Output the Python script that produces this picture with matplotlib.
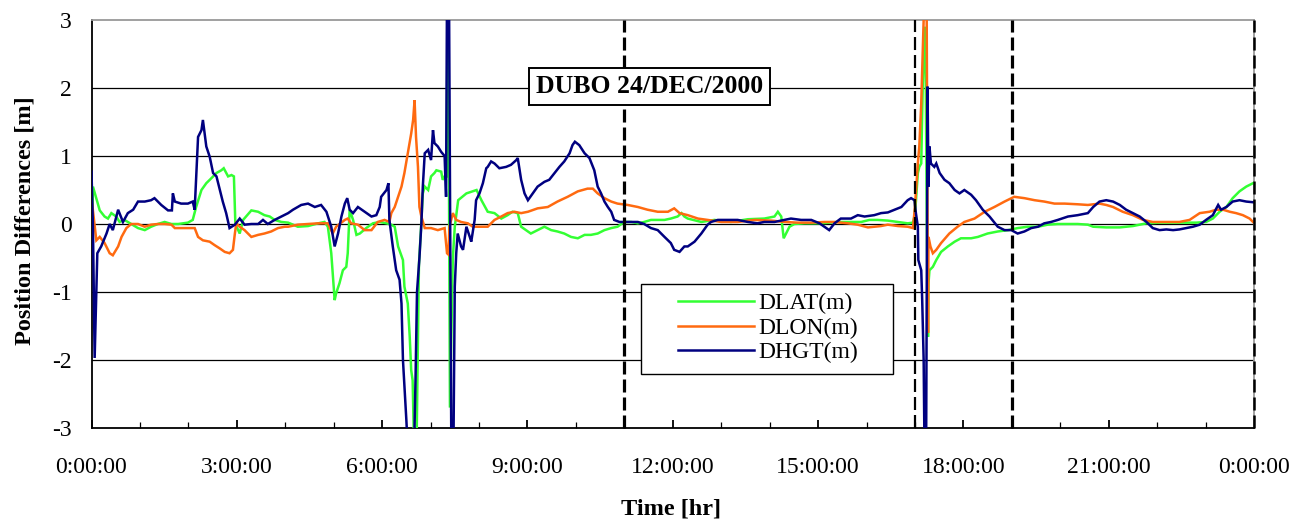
import matplotlib
matplotlib.use("Agg")
import matplotlib.pyplot as plt
from matplotlib.patches import Rectangle

# ---------------- data (hours, metres) ----------------
lat_t = [0.00, 0.03, 0.07, 0.17, 0.27, 0.34, 0.41, 0.51, 0.58, 0.68, 0.82, 0.96, 1.10, 1.23, 1.37, 1.51,
         1.65, 1.79, 1.99, 2.09, 2.16, 2.27, 2.37, 2.47, 2.58, 2.68, 2.73, 2.82, 2.89, 2.94, 2.97, 3.06,
         3.13, 3.30, 3.44, 3.57, 3.68, 3.78, 3.92, 4.06, 4.26, 4.47, 4.68, 4.81, 4.88, 4.95, 5.02, 5.05,
         5.12, 5.19, 5.26, 5.29, 5.33, 5.40, 5.47, 5.54, 5.67, 5.81, 5.95, 6.09, 6.19, 6.26, 6.33, 6.43,
         6.46, 6.53, 6.57, 6.60, 6.63, 6.66, 6.71, 6.76, 6.80, 6.84, 6.88, 6.95, 7.01, 7.08, 7.12, 7.22,
         7.25, 7.29, 7.33, 7.35, 7.37, 7.40, 7.46, 7.50, 7.57, 7.74, 7.95, 8.05, 8.18, 8.32, 8.46, 8.59,
         8.69, 8.80, 8.87, 8.97, 9.07, 9.21, 9.35, 9.49, 9.62, 9.76, 9.90, 10.04, 10.18, 10.31, 10.45,
         10.59, 10.73, 10.86, 11.00, 11.14, 11.28, 11.41, 11.55, 11.69, 11.83, 11.96, 12.10, 12.18,
         12.24, 12.31, 12.59, 12.86, 13.20, 13.55, 13.89, 14.10, 14.17, 14.24, 14.29, 14.34, 14.41,
         14.51, 14.72, 15.06, 15.41, 15.68, 15.89, 16.06, 16.23, 16.44, 16.65, 16.85, 16.96, 16.99,
         17.02, 17.06, 17.09, 17.13, 17.16, 17.20, 17.22, 17.25, 17.27, 17.28, 17.30, 17.37, 17.44,
         17.54, 17.68, 17.82, 17.95, 18.16, 18.30, 18.50, 18.71, 18.92, 19.12, 19.33, 19.54, 19.74,
         19.95, 20.16, 20.36, 20.57, 20.68, 20.95, 21.23, 21.50, 21.78, 22.05, 22.33, 22.60, 22.81,
         23.01, 23.15, 23.29, 23.43, 23.56, 23.70, 23.84, 23.98]
lat_v = [-0.43, 0.55, 0.45, 0.20, 0.11, 0.08, 0.16, 0.11, 0.03, 0.06, 0.00, -0.06, -0.09, -0.04, 0.00, 0.03,
         0.00, 0.00, 0.02, 0.06, 0.25, 0.50, 0.60, 0.67, 0.75, 0.79, 0.82, 0.70, 0.72, 0.70, 0.00, -0.14,
         0.06, 0.20, 0.18, 0.13, 0.11, 0.06, 0.03, 0.02, -0.04, -0.03, 0.01, 0.03, -0.04, -0.43, -1.12, -1.02,
         -0.87, -0.68, -0.63, -0.43, 0.21, 0.06, -0.16, -0.14, -0.06, 0.01, 0.03, 0.01, -0.01, -0.04, -0.33, -0.53,
         -0.92, -1.17, -1.66, -2.15, -2.30, -3.30, -3.30, -0.60, -0.10, 0.45, 0.55, 0.50, 0.70, 0.75, 0.79, 0.77,
         0.65, 0.70, 0.70, 2.90, 2.30, -2.70, -0.50, -0.04, 0.35, 0.45, 0.50, 0.35, 0.18, 0.16, 0.08, 0.13,
         0.18, 0.16, -0.04, -0.09, -0.14, -0.09, -0.04, -0.09, -0.11, -0.14, -0.19, -0.21, -0.16, -0.16, -0.14,
         -0.09, -0.06, -0.04, 0.03, 0.03, 0.01, 0.03, 0.06, 0.06, 0.06, 0.08, 0.11, 0.16,
         0.11, 0.08, 0.03, 0.06, 0.03, 0.07, 0.08, 0.11, 0.18, 0.11, -0.21, -0.14, -0.04,
         0.00, 0.01, 0.01, 0.03, 0.03, 0.03, 0.06, 0.06, 0.05, 0.03, 0.01, 0.02, 0.11,
         0.33, 0.75, 0.84, 0.89, 2.00, 2.90, 2.40, -0.40, -1.66, -0.87, -0.68, -0.63, -0.53,
         -0.41, -0.33, -0.26, -0.21, -0.21, -0.19, -0.14, -0.11, -0.09, -0.06, -0.04, -0.04, -0.01,
         0.00, 0.00, 0.00, -0.01, -0.04, -0.05, -0.05, -0.03, 0.01, 0.02, 0.02, 0.02, 0.02,
         0.03, 0.08, 0.18, 0.25, 0.38, 0.48, 0.55, 0.60]

lon_t = [0.00, 0.10, 0.17, 0.27, 0.375, 0.44, 0.55, 0.62, 0.72, 0.82, 0.96, 1.10, 1.23, 1.37, 1.51, 1.65,
         1.72, 1.85, 1.99, 2.13, 2.20, 2.30, 2.44, 2.54, 2.65, 2.75, 2.85, 2.92, 2.96, 2.99, 3.06, 3.16,
         3.30, 3.44, 3.57, 3.71, 3.85, 3.99, 4.06, 4.26, 4.47, 4.68, 4.88, 4.98, 5.05, 5.23, 5.29, 5.36,
         5.50, 5.64, 5.78, 5.91, 6.05, 6.15, 6.19, 6.26, 6.33, 6.40, 6.46, 6.53, 6.60, 6.64, 6.67, 6.70,
         6.74, 6.77, 6.81, 6.88, 7.01, 7.15, 7.29, 7.34, 7.37, 7.39, 7.46, 7.53, 7.63, 7.77, 7.87, 7.98,
         8.18, 8.32, 8.46, 8.59, 8.73, 8.87, 9.01, 9.21, 9.42, 9.62, 9.83, 10.04, 10.24, 10.35, 10.45,
         10.59, 10.73, 10.86, 11.07, 11.28, 11.48, 11.69, 11.90, 12.03, 12.14, 12.31, 12.52, 12.72,
         13.00, 13.34, 13.69, 14.03, 14.31, 14.58, 14.86, 15.13, 15.34, 15.61, 15.82, 16.03, 16.30,
         16.44, 16.65, 16.85, 16.96, 17.00, 17.06, 17.09, 17.13, 17.16, 17.20, 17.24, 17.27, 17.28,
         17.32, 17.37, 17.44, 17.54, 17.71, 17.88, 18.02, 18.23, 18.44, 18.64, 18.85, 19.05, 19.26,
         19.47, 19.67, 19.88, 20.09, 20.36, 20.57, 20.81, 20.95, 21.09, 21.29, 21.50, 21.71, 21.91,
         22.19, 22.46, 22.67, 22.88, 23.08, 23.22, 23.36, 23.50, 23.63, 23.77, 23.91, 23.98]
lon_v = [0.38, -0.24, -0.19, -0.28, -0.43, -0.46, -0.33, -0.19, -0.06, 0.00, 0.00, -0.04, -0.01, 0.00, 0.00, -0.01,
         -0.06, -0.06, -0.06, -0.06, -0.19, -0.24, -0.26, -0.31, -0.36, -0.41, -0.43, -0.38, -0.14, 0.01, -0.04, -0.09,
         -0.19, -0.16, -0.14, -0.11, -0.06, -0.04, -0.04, -0.01, 0.00, 0.01, 0.01, -0.14, -0.04, 0.06, 0.08, 0.01,
         -0.01, -0.09, -0.09, 0.03, 0.06, 0.03, 0.16, 0.25, 0.40, 0.55, 0.75, 1.04, 1.33, 1.53, 1.82, 1.28,
         0.84, 0.25, 0.11, -0.06, -0.06, -0.09, -0.06, -0.43, -0.45, -0.04, 0.16, 0.06, 0.03, 0.01, -0.04, -0.04,
         -0.04, 0.06, 0.11, 0.16, 0.18, 0.16, 0.18, 0.23, 0.25, 0.33, 0.40, 0.48, 0.52, 0.52, 0.45,
         0.38, 0.33, 0.30, 0.28, 0.25, 0.21, 0.18, 0.18, 0.23, 0.16, 0.13, 0.08, 0.06,
         0.03, 0.03, 0.06, 0.05, 0.03, 0.02, 0.02, 0.03, 0.03, 0.01, -0.01, -0.05, -0.03,
         -0.01, -0.03, -0.04, -0.06, 0.25, 0.89, 1.14, 1.77, 2.50, 3.50, 3.50, -1.60, -0.19,
         -0.33, -0.43, -0.38, -0.28, -0.14, -0.04, 0.03, 0.08, 0.18, 0.25, 0.33, 0.40, 0.38,
         0.35, 0.33, 0.30, 0.30, 0.29, 0.28, 0.30, 0.28, 0.25, 0.18, 0.13, 0.06, 0.03,
         0.03, 0.03, 0.06, 0.16, 0.18, 0.21, 0.21, 0.18, 0.16, 0.13, 0.08, 0.03]

hgt_t = [0.00, 0.03, 0.065, 0.12, 0.20, 0.31, 0.375, 0.44, 0.55, 0.65, 0.75, 0.86, 0.96, 1.10, 1.23, 1.30,
         1.44, 1.58, 1.66, 1.68, 1.72, 1.85, 1.99, 2.09, 2.13, 2.20, 2.27, 2.30, 2.37, 2.44, 2.51, 2.58,
         2.65, 2.71, 2.78, 2.85, 2.96, 3.06, 3.16, 3.30, 3.44, 3.54, 3.64, 3.78, 3.92, 4.06, 4.16, 4.33,
         4.47, 4.61, 4.74, 4.85, 4.95, 5.02, 5.09, 5.16, 5.23, 5.28, 5.33, 5.40, 5.50, 5.64, 5.78, 5.88,
         5.95, 5.98, 6.09, 6.13, 6.15, 6.22, 6.29, 6.36, 6.40, 6.43, 6.50, 6.53, 6.66, 6.69, 6.72, 6.77,
         6.81, 6.84, 6.88, 6.95, 7.01, 7.05, 7.08, 7.15, 7.22, 7.29, 7.32, 7.34, 7.38, 7.43, 7.47, 7.50,
         7.53, 7.56, 7.63, 7.67, 7.74, 7.81, 7.84, 7.91, 7.94, 8.01, 8.08, 8.15, 8.18, 8.25, 8.32, 8.42,
         8.56, 8.66, 8.77, 8.80, 8.87, 8.94, 9.01, 9.11, 9.21, 9.35, 9.45, 9.56, 9.66, 9.76, 9.87, 9.93,
         9.98, 10.07, 10.18, 10.28, 10.38, 10.45, 10.52, 10.59, 10.66, 10.73, 10.79, 10.90, 11.00, 11.14,
         11.28, 11.41, 11.55, 11.69, 11.83, 11.96, 12.03, 12.14, 12.24, 12.31, 12.45, 12.59, 12.72, 12.79,
         12.93, 13.14, 13.34, 13.55, 13.75, 13.89, 14.10, 14.31, 14.44, 14.65, 14.86, 15.03, 15.13, 15.23,
         15.34, 15.47, 15.68, 15.82, 15.96, 16.16, 16.30, 16.44, 16.58, 16.72, 16.85, 16.92, 16.99, 17.02,
         17.06, 17.07, 17.09, 17.13, 17.15, 17.18, 17.20, 17.23, 17.26, 17.28, 17.30, 17.33, 17.40, 17.44,
         17.51, 17.61, 17.71, 17.82, 17.92, 18.02, 18.16, 18.26, 18.40, 18.54, 18.71, 18.85, 18.99, 19.12,
         19.26, 19.40, 19.54, 19.67, 19.81, 19.95, 20.16, 20.36, 20.57, 20.68, 20.81, 20.95, 21.09, 21.23,
         21.36, 21.50, 21.64, 21.78, 21.91, 22.05, 22.19, 22.33, 22.46, 22.60, 22.74, 22.88, 23.01, 23.15,
         23.26, 23.32, 23.43, 23.56, 23.70, 23.84, 23.98]
hgt_v = [0.77, -0.05, -1.97, -0.43, -0.33, -0.14, 0.00, -0.09, 0.21, 0.03, 0.16, 0.21, 0.33, 0.33, 0.35, 0.38,
         0.28, 0.20, 0.20, 0.45, 0.33, 0.30, 0.30, 0.33, 0.21, 1.28, 1.38, 1.53, 1.14, 0.99, 0.75, 0.70,
         0.50, 0.33, 0.16, -0.06, -0.01, 0.08, -0.01, 0.00, 0.00, 0.06, 0.00, 0.06, 0.11, 0.16, 0.21, 0.28,
         0.30, 0.25, 0.28, 0.18, -0.04, -0.33, -0.14, 0.11, 0.30, 0.38, 0.21, 0.16, 0.25, 0.18, 0.11, 0.13,
         0.25, 0.40, 0.50, 0.60, 0.06, -0.33, -0.68, -0.82, -1.17, -2.00, -2.88, -3.30, -3.30, -2.27, -1.00, -0.50,
         0.00, 0.55, 1.04, 1.09, 0.94, 1.38, 1.19, 1.14, 1.06, 1.00, 0.40, 3.50, 3.50, -3.50, -3.50, -0.92,
         -0.43, -0.14, -0.33, -0.38, -0.04, -0.19, -0.26, 0.06, 0.35, 0.45, 0.60, 0.82, 0.84, 0.92, 0.89, 0.82,
         0.84, 0.87, 0.94, 0.97, 0.65, 0.45, 0.35, 0.45, 0.55, 0.62, 0.65, 0.75, 0.84, 0.92, 1.04, 1.16,
         1.21, 1.16, 1.04, 0.97, 0.79, 0.55, 0.45, 0.33, 0.25, 0.18, 0.06, 0.03, 0.03, 0.03,
         0.03, 0.00, -0.06, -0.09, -0.19, -0.28, -0.38, -0.41, -0.33, -0.33, -0.26, -0.14, -0.01, 0.03,
         0.06, 0.06, 0.06, 0.03, 0.01, 0.03, 0.03, 0.06, 0.08, 0.06, 0.06, 0.01, -0.04, -0.09,
         0.01, 0.08, 0.08, 0.13, 0.11, 0.13, 0.16, 0.17, 0.21, 0.25, 0.35, 0.38, 0.35, 0.16,
         -0.04, -0.53, -0.58, -0.68, -1.12, -2.00, -3.50, -3.50, 2.02, 0.55, 1.14, 0.89, 0.84, 0.89,
         0.75, 0.65, 0.60, 0.50, 0.45, 0.50, 0.43, 0.35, 0.21, 0.11, -0.04, -0.09, -0.09, -0.14,
         -0.11, -0.06, -0.04, 0.01, 0.03, 0.06, 0.11, 0.13, 0.16, 0.25, 0.33, 0.35, 0.33, 0.28,
         0.21, 0.16, 0.11, 0.03, -0.06, -0.09, -0.08, -0.09, -0.08, -0.06, -0.04, -0.01, 0.06, 0.13,
         0.28, 0.21, 0.25, 0.33, 0.35, 0.33, 0.32]

series_names = ["DLAT(m)", "DLON(m)", "DHGT(m)"]
series_colors = ["#33FF33", "#FF6A10", "#000080"]
event_hours = [11, 17, 19, 24]
x_tick_hours = [0, 3, 6, 9, 12, 15, 18, 21, 24]
x_tick_labels = ["0:00:00", "3:00:00", "6:00:00", "9:00:00", "12:00:00", "15:00:00",
                 "18:00:00", "21:00:00", "0:00:00"]
y_ticks = [-3, -2, -1, 0, 1, 2, 3]
title_text = "DUBO 24/DEC/2000"

# ---------------- drawing ----------------
plt.rcParams["font.family"] = ["Liberation Serif", "DejaVu Serif"]
plt.rcParams["axes.unicode_minus"] = False

W, H = 1302, 523
fig = plt.figure(figsize=(W / 100, H / 100), dpi=100)
L, R, T, B = 91.5, 1254.0, 20.0, 428.0
ax = fig.add_axes([L / W, (H - B) / H, (R - L) / W, (B - T) / H])

ax.set_xlim(0, 24)
ax.set_ylim(-3, 3)

for yv in y_ticks[1:-1]:
    ax.axhline(yv, color="black", lw=0.9, zorder=1)

lines = []
for (t, v), name, col in zip([(lat_t, lat_v), (lon_t, lon_v), (hgt_t, hgt_v)], series_names, series_colors):
    ln, = ax.plot(t, v, color=col, lw=1.8, label=name, zorder=3, solid_joinstyle="miter")
    lines.append(ln)

ev_w = [2.3, 1.6, 2.3, 1.8]
for h, w in zip(event_hours, ev_w):
    ax.axvline(h, color="black", lw=w, dashes=(13 / (w * 1.389), 5 / (w * 1.389)), zorder=4, clip_on=False)

ax.set_xticks(x_tick_hours)
ax.set_xticklabels(x_tick_labels)
ax.set_xticks(range(0, 25), minor=True)
ax.tick_params(axis="x", which="major", direction="in", length=6, width=1.3, labelsize=17, pad=21)
ax.tick_params(axis="x", which="minor", direction="in", length=4.5, width=0.9)
ax.set_yticks(y_ticks)
ax.set_yticklabels([str(v) for v in y_ticks])
ax.tick_params(axis="y", which="both", length=0, labelsize=17, pad=14)

for s in ["left", "bottom"]:
    ax.spines[s].set_color("black")
    ax.spines[s].set_linewidth(1.3)
for s in ["top", "right"]:
    ax.spines[s].set_color("#999999")
    ax.spines[s].set_linewidth(1.3)

ax.set_xlabel("Time [hr]", fontsize=17.5, fontweight="bold")
ax.xaxis.set_label_coords((670.7 - L) / (R - L), (B - 498) / (B - T))
ax.set_ylabel("Position Differences [m]", fontsize=17.5, fontweight="bold")
ax.yaxis.set_label_coords((36 - L) / (R - L), (B - 221) / (B - T))

ax.text((649.5 - L) / (R - L), (B - 86.5) / (B - T), title_text, transform=ax.transAxes,
        ha="center", va="center", fontsize=18.5, fontweight="bold", zorder=10,
        bbox=dict(boxstyle="square,pad=0.28", fc="white", ec="black", lw=1.4))

# legend frame
lx0, lx1, ly0, ly1 = 641, 893, 284, 374
ax.add_patch(Rectangle(((lx0 - L) / (R - L), (B - ly1) / (B - T)),
                       (lx1 - lx0) / (R - L), (ly1 - ly0) / (B - T),
                       transform=ax.transAxes, fc="white", ec="black", lw=1.0, zorder=9))
leg = ax.legend(handles=lines, loc="center left", frameon=False,
                bbox_to_anchor=((678 - L) / (R - L), (B - 328) / (B - T)),
                fontsize=17, handlelength=3.2, handletextpad=0.22, labelspacing=0.13,
                borderpad=0.0, borderaxespad=0.0)
leg.set_zorder(11)

fig.savefig("out.png", dpi=100)
